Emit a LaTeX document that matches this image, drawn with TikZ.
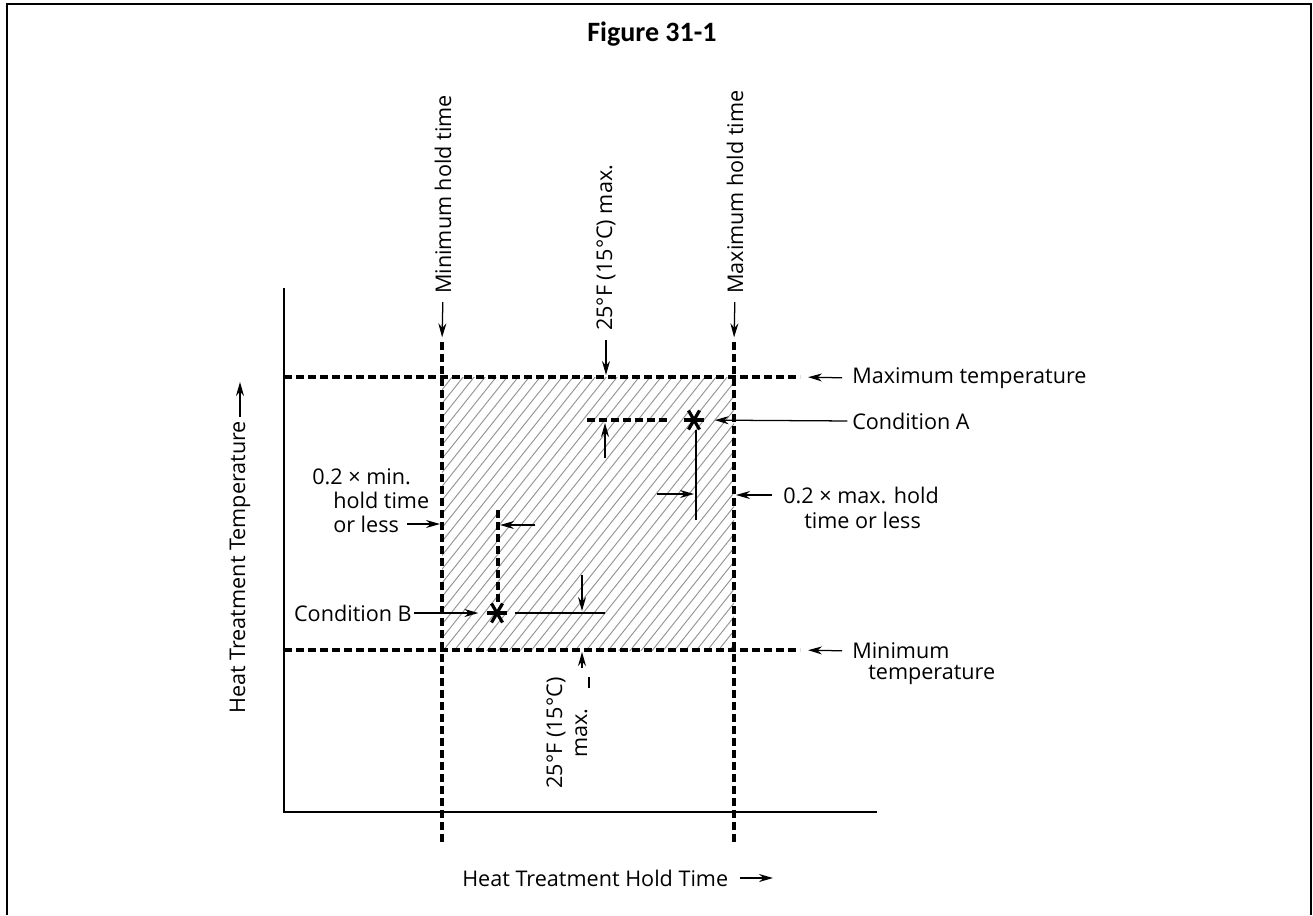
\documentclass[tikz,border=0pt]{standalone}
\usepackage{fontspec}
\setmainfont{Open Sans}
\newfontfamily\titlefont{Carlito}
\usetikzlibrary{arrows.meta,calc}
\tikzset{
  lbl/.style={font=\fontsize{16.2}{18.75}\selectfont, inner sep=0pt},
  limitline/.style={line width=2.6pt, dash pattern=on 6pt off 3pt},
  axisline/.style={line width=1.1pt},
  ptr/.style={line width=0.95pt, -{Stealth[length=10.5pt,width=6pt]}},
  hatchline/.style={line width=0.7pt, gray!85},
  condmark/.style={line width=2.4pt},
}
\newcommand{\condstar}[1]{%
  \draw[condmark] (#1) ++(0:10) -- ++(180:20);
  \draw[condmark] (#1) ++(60:11) -- ++(240:22);
  \draw[condmark] (#1) ++(120:11) -- ++(300:22);
}

\begin{document}
\begin{tikzpicture}[x=0.75pt, y=-0.75pt]
    \useasboundingbox (0,0) rectangle (1313,915);
    \draw[line width=1.5pt] (7,915) -- (7,4) -- (1311,4) -- (1311,915);
    \node[font=\titlefont\bfseries\fontsize{21}{24}\selectfont] (title) at (652,34) {Figure 31-1};

    \coordinate (tmin top) at (442,342);
    \coordinate (tmin bot) at (442,843);
    \coordinate (tmax top) at (734,342);
    \coordinate (tmax bot) at (734,843);
    \coordinate (Tmax west) at (284,377);
    \coordinate (Tmax east) at (800,377);
    \coordinate (Tmin west) at (284,650);
    \coordinate (Tmin east) at (800,650);
    \coordinate (yend) at (284,288);
    \coordinate (origin) at (284,812);
    \coordinate (xend) at (877,812);
    \coordinate (starA) at (694,420);
    \coordinate (starB) at (497,613);

    \begin{scope}
      \clip (442,377) rectangle (734,650);
      \foreach \h in {200,211,...,740}
        \draw[hatchline] (\h,652) -- ++(220,-276);
    \end{scope}

    \draw[axisline] (yend) -- (origin) -- (xend);
    \draw[limitline] (tmin top) -- (tmin bot);
    \draw[limitline] (tmax top) -- (tmax bot);
    \draw[limitline] (Tmax west) -- (Tmax east);
    \draw[limitline] (Tmin west) -- (Tmin east);

    \node[lbl, rotate=90, anchor=west] (minhold) at (443,294) {Minimum hold time};
    \node[lbl, rotate=90, anchor=west] (maxhold) at (735,294) {Maximum hold time};
    \node[lbl, rotate=90, anchor=west] (dtop) at (606,331) {25°F (15°C) max.};
    \draw[ptr, shorten <=6pt, shorten >=3.5pt] (minhold.west) -- (tmin top);
    \draw[ptr, shorten <=6pt, shorten >=3.5pt] (maxhold.west) -- (tmax top);
    \draw[ptr, shorten <=6.5pt, shorten >=1.5pt] (dtop.west) -- (dtop.west |- Tmax west);

    \node[lbl, anchor=west] (maxtemp) at (852,378) {Maximum temperature};
    \node[lbl, anchor=west] (mintemp) at (852,651) {Minimum};
    \node[lbl, anchor=west] (mintemp2) at (868,675) {temperature};
    \draw[ptr, shorten <=7.5pt, shorten >=6pt] (maxtemp.west) -- (Tmax east);
    \draw[ptr, shorten <=7.5pt, shorten >=6pt] (mintemp.west) -- (Tmin east);

    \condstar{starA}
    \draw[limitline] ($(starA)+(-107,0)$) -- ($(starA)+(-24,0)$);
    \draw[ptr] ($(starA)+(-89,38)$) -- ($(starA)+(-89,3)$);
    \draw[axisline] ($(starA)+(2,10)$) -- ($(starA)+(2,100)$);
    \draw[ptr] ($(starA)+(-37,74)$) -- ($(starA)+(0,74)$);
    \node[lbl, anchor=west] (condA) at (852,421) {Condition A};
    \draw[ptr, shorten <=3.5pt, shorten >=15.5pt] (condA.west) -- (starA);

    \node[lbl, anchor=west] (maxfrac) at (783,495) {0.2 × max. hold};
    \node[lbl, anchor=west] (maxfrac2) at (804,520) {time or less};
    \draw[ptr, shorten <=8pt, shorten >=1.5pt] (maxfrac.west) -- (maxfrac.west -| tmax top);

    \node[lbl, anchor=west] (minfrac) at (312,477) {0.2 × min.};
    \node[lbl, anchor=west] (minfrac2) at (333,500) {hold time};
    \node[lbl, anchor=west] (minfrac3) at (333,524) {or less};
    \draw[ptr, shorten <=6pt, shorten >=1.5pt] (minfrac3.east) -- (minfrac3.east -| tmin top);

    \condstar{starB}
    \draw[limitline] ($(starB)+(1,-103)$) -- ($(starB)+(1,-10)$);
    \draw[ptr] ($(starB)+(38,-88)$) -- ($(starB)+(3,-88)$);
    \draw[axisline] ($(starB)+(18,0)$) -- ($(starB)+(108,0)$);
    \draw[ptr] ($(starB)+(85,-38)$) -- ($(starB)+(85,-2)$);
    \node[lbl, anchor=east] (condB) at (412,613) {Condition B};
    \draw[ptr, shorten <=1.5pt, shorten >=14pt] (condB.east) -- (starB);

    \draw[ptr] (582,668) -- (582,652);
    \draw[line width=1.3pt] (589,677) -- (589,688);
    \node[lbl, rotate=90, align=center] (dbot) at (567,733) {25°F (15°C)\\max.};

    \node[lbl, rotate=90, anchor=west] (ylbl) at (240,714) {Heat Treatment Temperature};
    \draw[ptr, shorten <=3pt] (ylbl.east) -- (ylbl.east |- 0,382);
    \node[lbl, anchor=west] (xlbl) at (462,878) {Heat Treatment Hold Time};
    \draw[ptr, shorten <=9pt] (xlbl.east) -- (773,878);
\end{tikzpicture}
\end{document}
